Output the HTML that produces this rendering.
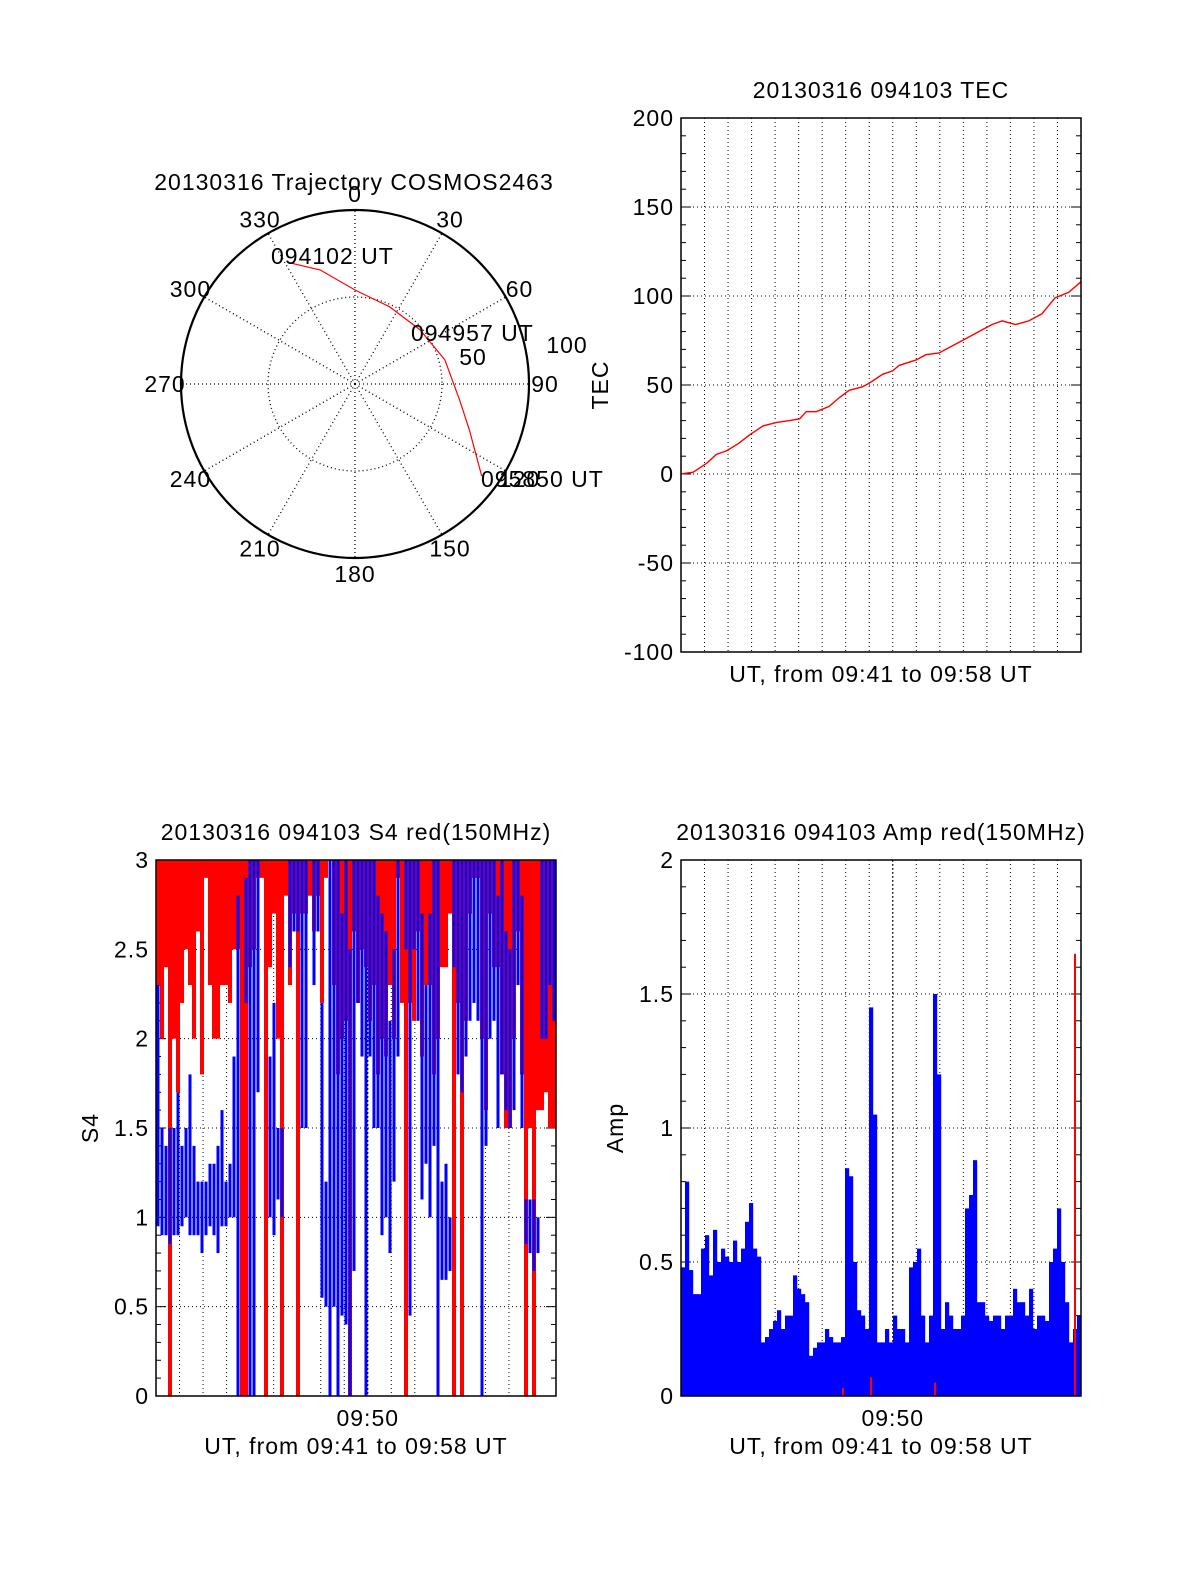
<!DOCTYPE html>
<html><head><meta charset="utf-8"><style>
html,body{margin:0;padding:0;background:#fff;overflow:hidden;width:1200px;height:1575px}
svg{display:block}
svg text{font-family:"Liberation Sans",Arial,sans-serif;fill:#000;letter-spacing:1px}
</style></head><body>
<svg id="fig" width="1200" height="1575" viewBox="0 0 1200 1575" xmlns="http://www.w3.org/2000/svg">
<rect width="1200" height="1575" fill="#fff"/>
<g id="polar"></g>
<g id="tec"></g>
<g id="s4"></g>
<g id="amp"></g>
</svg>
<script>
// ---------- data ----------
const trajAz = [331, 343, 0, 24, 50, 75, 99, 112, 126];
const trajR  = [80, 68.6, 54, 48.6, 48.6, 53.5, 61, 71, 90];
const trajLabels = ["094102 UT", "094957 UT", "095850 UT"];
const azTickLabels = [0,30,60,90,120,150,180,210,240,270,300,330];

const tecTime = [0,0.52,1.09,1.51,1.93,2.43,2.92,3.49,4.06,4.62,5.04,5.32,5.75,6.30,6.73,7.15,7.71,8.00,8.57,9.00,9.27,9.98,10.41,10.97,11.39,11.96,12.52,12.80,13.22,13.65,14.21,14.78,15.34,15.90,16.47,17.0];
const tecVal  = [0,1,6,11,13,17,22,27,29,30,31,35,35,38,43,47,49,51,56,58,61,64,67,68,71,75,79,81,84,86,84,86,90,99,102,108];
const tecTicks = [-100,-50,0,50,100,150,200];

const s4RedLo = [2.3,2.0,2.4,0,2.0,1.7,2.2,2.5,2.3,2.0,2.6,1.8,2.9,2.3,2.0,2.0,2.3,2.3,2.2,2.5,
2.5,0,0,2.4,2.5,2.9,2.9,0,2.4,2.7,2.0,0,2.8,2.3,2.7,0,2.7,2.7,2.8,2.6,
2.8,2.2,2.9,3,2.3,1.8,2.0,2.1,0,2.6,2.2,2.5,2.4,2.1,2.3,1.8,2.0,1.9,2.3,2.0,
2.9,2.2,0,2.2,2.1,2.6,1.9,2.3,2.3,1.8,2.0,2.4,2.4,2.7,0,2.2,0,2.1,2.7,2.9,
2.9,2.0,1.6,2.7,2.4,2.4,1.8,1.5,1.5,2.0,2.6,1.8,0,1.5,0,1.6,1.6,1.7,1.5,1.5];
const s4BlueLo = [0.95,0.9,0.9,0.85,0.9,0.9,0.95,1.0,0.9,0.9,0.9,0.8,0.9,0.95,0.9,0.8,0.95,0.95,1.0,1.0,
0,-1,2.2,0,0,1.7,-1,-1,1.0,0.9,1.1,1.0,-1,2.4,2.6,2.6,1.5,1.5,-1,2.3,
2.6,0.55,0.5,0,0.5,0,0.45,0.4,0,0.7,2.2,1.9,0,1.9,1.5,1.5,0.9,1.0,0.8,1.2,
1.9,-1,2.5,0.45,2.5,2.1,1.1,1.3,1.0,1.4,0,0.65,0.65,0.7,2.4,1.8,1.7,1.9,2.1,2.2,
2.1,0,1.4,2.0,2.1,1.5,1.8,1.6,1.5,1.6,2.3,1.5,0.85,0.8,0.7,0.8,2.0,2.0,2.3,2.1];
const s4BlueHi = [2.3,1.5,1.4,1.5,1.5,1.7,1.4,1.5,1.8,1.4,1.2,1.2,1.2,1.3,1.3,1.4,1.6,1.2,1.3,1.9,
2.8,-1,2.9,3,3,3,-1,-1,1.9,2.2,1.5,1.5,-1,3,3,3,3,3,-1,3,
3,2.2,1.2,3,3,3,2.7,3,2.5,3,3,3,3,3,3,2.8,2.7,2.6,2.1,2.5,
3,-1,3,3,3,3,2.7,2.3,2.7,3,3,1.2,1.3,1.0,3,3,3,3,3,3,
3,3,3,3,3,2.8,3,2.6,2.5,3,3,2.8,1.1,1.1,1.1,1.0,3,3,3,3];
const s4Ticks = [0,0.5,1,1.5,2,2.5,3];

const ampBlue = [0.48,0.8,0.47,0.38,0.38,0.55,0.6,0.45,0.62,0.5,0.55,0.52,0.5,0.58,0.5,0.55,0.65,0.72,0.55,0.52,
0.2,0.22,0.25,0.28,0.32,0.25,0.3,0.3,0.45,0.4,0.38,0.35,0.15,0.18,0.2,0.2,0.25,0.22,0.2,0.2,
0.22,0.85,0.82,0.5,0.32,0.3,0.25,1.45,1.05,0.2,0.2,0.25,0.2,0.3,0.25,0.25,0.2,0.48,0.5,0.55,
0.3,0.2,0.3,1.5,1.2,0.25,0.35,0.3,0.25,0.25,0.3,0.7,0.75,0.88,0.35,0.35,0.3,0.28,0.3,0.3,
0.25,0.3,0.3,0.4,0.35,0.35,0.3,0.4,0.25,0.3,0.3,0.28,0.5,0.55,0.7,0.5,0.35,0.2,0.25,0.3];
const ampRed = [0,0,0,0,0,0,0,0,0,0,0,0,0,0,0,0,0,0,0,0,0,0,0,0,0,0,0,0,0,0,0,0,0,0,0,0,0,0,0,0,
0.03,0,0,0,0,0,0,0.07,0,0,0,0,0,0,0,0,0,0,0,0,0,0,0,0.05,0,0,0,0,0,0,0,0,0,0,0,0,0,0,0,0,
0,0,0,0,0,0,0,0,0,0,0,0,0,0,0,0,0,0,1.65,0];
const ampTicks = [0,0.5,1,1.5,2];
const minutesSpan = 17;

// ---------- helpers ----------
const NS = "http://www.w3.org/2000/svg";
function mk(parent, tag, attrs, txt){
  const e = document.createElementNS(NS, tag);
  for (const k in attrs) e.setAttribute(k, attrs[k]);
  if (txt !== undefined) e.textContent = txt;
  parent.appendChild(e);
  return e;
}
const DOT = "1,3";
const FS = 23;

// ---------- polar ----------
(function(){
  const g = document.getElementById('polar');
  const cx = 355, cy = 384, R = 174, rMax = 100;
  const rs = v => v / rMax * R;
  const t = mk(g,'text',{x:354,y:190,'font-size':FS,'text-anchor':'middle'},"20130316 Trajectory COSMOS2463");
  
  
  for (let i=0;i<12;i++){
    const a = i*30*Math.PI/180;
    const l = mk(g,'line',{x1:cx,y1:cy,x2:cx+R*Math.sin(a),y2:cy-R*Math.cos(a),stroke:'#000','stroke-width':1.3,'stroke-dasharray':DOT});
    
    
  }
  const ci = mk(g,'circle',{cx:cx,cy:cy,r:rs(50),fill:'none',stroke:'#000','stroke-width':1.3,'stroke-dasharray':DOT});
  
  
  const co = mk(g,'circle',{cx:cx,cy:cy,r:R,fill:'none',stroke:'#000','stroke-width':2.2});
  
  
  azTickLabels.forEach(v=>{
    const a = v*Math.PI/180, rr = 190;
    const tx = mk(g,'text',{x:cx+rr*Math.sin(a),y:cy-rr*Math.cos(a)+8,'font-size':FS,'text-anchor':'middle'},String(v));
    
    
  });
  const r50 = mk(g,'text',{x:473,y:365,'font-size':FS,'text-anchor':'middle'},"50");
  
  
  const r100 = mk(g,'text',{x:567,y:353,'font-size':FS,'text-anchor':'middle'},"100");
  
  
  let d='';
  trajAz.forEach((az,i)=>{
    const a = az*Math.PI/180, r = rs(trajR[i]);
    d += (i?'L':'M') + (cx+r*Math.sin(a)).toFixed(1)+','+(cy-r*Math.cos(a)).toFixed(1);
  });
  const p = mk(g,'path',{d:d,fill:'none',stroke:'#f00','stroke-width':1.2});
  
  
  const lp = [[271,264],[411,341],[481,487]];
  trajLabels.forEach((s,i)=>{
    const tx = mk(g,'text',{x:lp[i][0],y:lp[i][1],'font-size':FS},s);
    
    
  });
})();

// ---------- generic time axes ----------
function axes(g, L, T, W, H, ymin, ymax, ticks, minorStep, fmt, xlabel, ylabel, ylx, title, tickAt50){
  const ys = v => T + H - (v-ymin)/(ymax-ymin)*H;
  const xs = m => L + m/minutesSpan*W;
  for (let m=1;m<minutesSpan;m++){
    const gl = mk(g,'line',{x1:xs(m),y1:T,x2:xs(m),y2:T+H,stroke:'#000','stroke-width':1,'stroke-dasharray':DOT});
    
    
  }
  ticks.forEach(v=>{
    if (v>ymin && v<ymax){
      const gl = mk(g,'line',{x1:L,y1:ys(v),x2:L+W,y2:ys(v),stroke:'#000','stroke-width':1,'stroke-dasharray':DOT});
      
      
    }
    const tl = mk(g,'text',{x:L-7,y:ys(v)+8,'font-size':FS,'text-anchor':'end'},fmt(v));
    
    
  });
  for (let v=ymin; v<=ymax+1e-9; v+=minorStep){
    const isMaj = ticks.some(t=>Math.abs(t-v)<1e-9);
    const len = isMaj?10:5;
    const a = mk(g,'line',{x1:L,y1:ys(v),x2:L+len,y2:ys(v),stroke:'#000','stroke-width':1});
    
    
    const b = mk(g,'line',{x1:L+W,y1:ys(v),x2:L+W-len,y2:ys(v),stroke:'#000','stroke-width':1});
    
    
  }
  if (title){
    const tt = mk(g,'text',{x:L+W/2,y:T-20,'font-size':FS,'text-anchor':'middle'},title);
    
    
  }
  const xl = mk(g,'text',{x:L+W/2,y:T+H+(tickAt50?58:30),'font-size':FS,'text-anchor':'middle'},xlabel);
  
  
  if (tickAt50){
    const tl = mk(g,'text',{x:xs(9),y:T+H+30,'font-size':FS,'text-anchor':'middle'},"09:50");
    
    
    const tk = mk(g,'line',{x1:xs(9),y1:T,x2:xs(9),y2:T+H,stroke:'#000','stroke-width':1,'stroke-dasharray':'2,2'});
    
    
  }
  const yl = mk(g,'text',{x:ylx,y:T+H/2,'font-size':FS,'text-anchor':'middle',transform:`rotate(-90 ${ylx} ${T+H/2})`},ylabel);
  
  
  return {ys, xs};
}
function frame(g,L,T,W,H){
  const r = mk(g,'rect',{x:L,y:T,width:W,height:H,fill:'none',stroke:'#000','stroke-width':1.5});
  
  
}

// ---------- TEC ----------
(function(){
  const g = document.getElementById('tec');
  const L=681,T=118,W=400,H=534;
  const {ys,xs} = axes(g,L,T,W,H,-100,200,tecTicks,10,v=>String(v),"UT, from 09:41 to 09:58 UT","TEC",608,"20130316 094103 TEC",false);
  let d='';
  tecTime.forEach((m,i)=>{ d += (i?'L':'M')+xs(m).toFixed(1)+','+ys(tecVal[i]).toFixed(1); });
  const p = mk(g,'path',{d:d,fill:'none',stroke:'#f00','stroke-width':1.4});
  
  
  frame(g,L,T,W,H);
})();

// ---------- S4 ----------
(function(){
  const g = document.getElementById('s4');
  const L=156,T=860,W=400,H=536;
  const {ys,xs} = axes(g,L,T,W,H,0,3,s4Ticks,0.1,v=>String(v),"UT, from 09:41 to 09:58 UT","S4",98,"20130316 094103 S4 red(150MHz)",true);
  const n = s4RedLo.length, bw = W/n;
  s4RedLo.forEach((v,i)=>{
    if (v>=3) return;
    const r = mk(g,'rect',{x:L+i*bw,y:ys(3),width:bw,height:ys(v)-ys(3),fill:'#f00'});
    
    
  });
  s4BlueLo.forEach((v,i)=>{
    const hi = s4BlueHi[i];
    if (v<0 || hi<0) return;
    const r = mk(g,'rect',{x:L+i*bw+0.5,y:ys(hi),width:bw-1,height:ys(v)-ys(hi),fill:'#00f'});
    
    
  });
  frame(g,L,T,W,H);
})();

// ---------- Amp ----------
(function(){
  const g = document.getElementById('amp');
  const L=681,T=860,W=400,H=536;
  const {ys,xs} = axes(g,L,T,W,H,0,2,ampTicks,0.1,v=>String(v),"UT, from 09:41 to 09:58 UT","Amp",623,"20130316 094103 Amp red(150MHz)",true);
  const n = ampBlue.length, bw = W/n;
  ampBlue.forEach((v,i)=>{
    const r = mk(g,'rect',{x:L+i*bw,y:ys(v),width:bw+0.2,height:ys(0)-ys(v),fill:'#00f'});
    
    
  });
  ampRed.forEach((v,i)=>{
    if (v<=0) return;
    const r = mk(g,'rect',{x:L+i*bw+1,y:ys(v),width:2,height:ys(0)-ys(v),fill:'#f00'});
    
    
  });
  frame(g,L,T,W,H);
})();
</script>
</body></html>
